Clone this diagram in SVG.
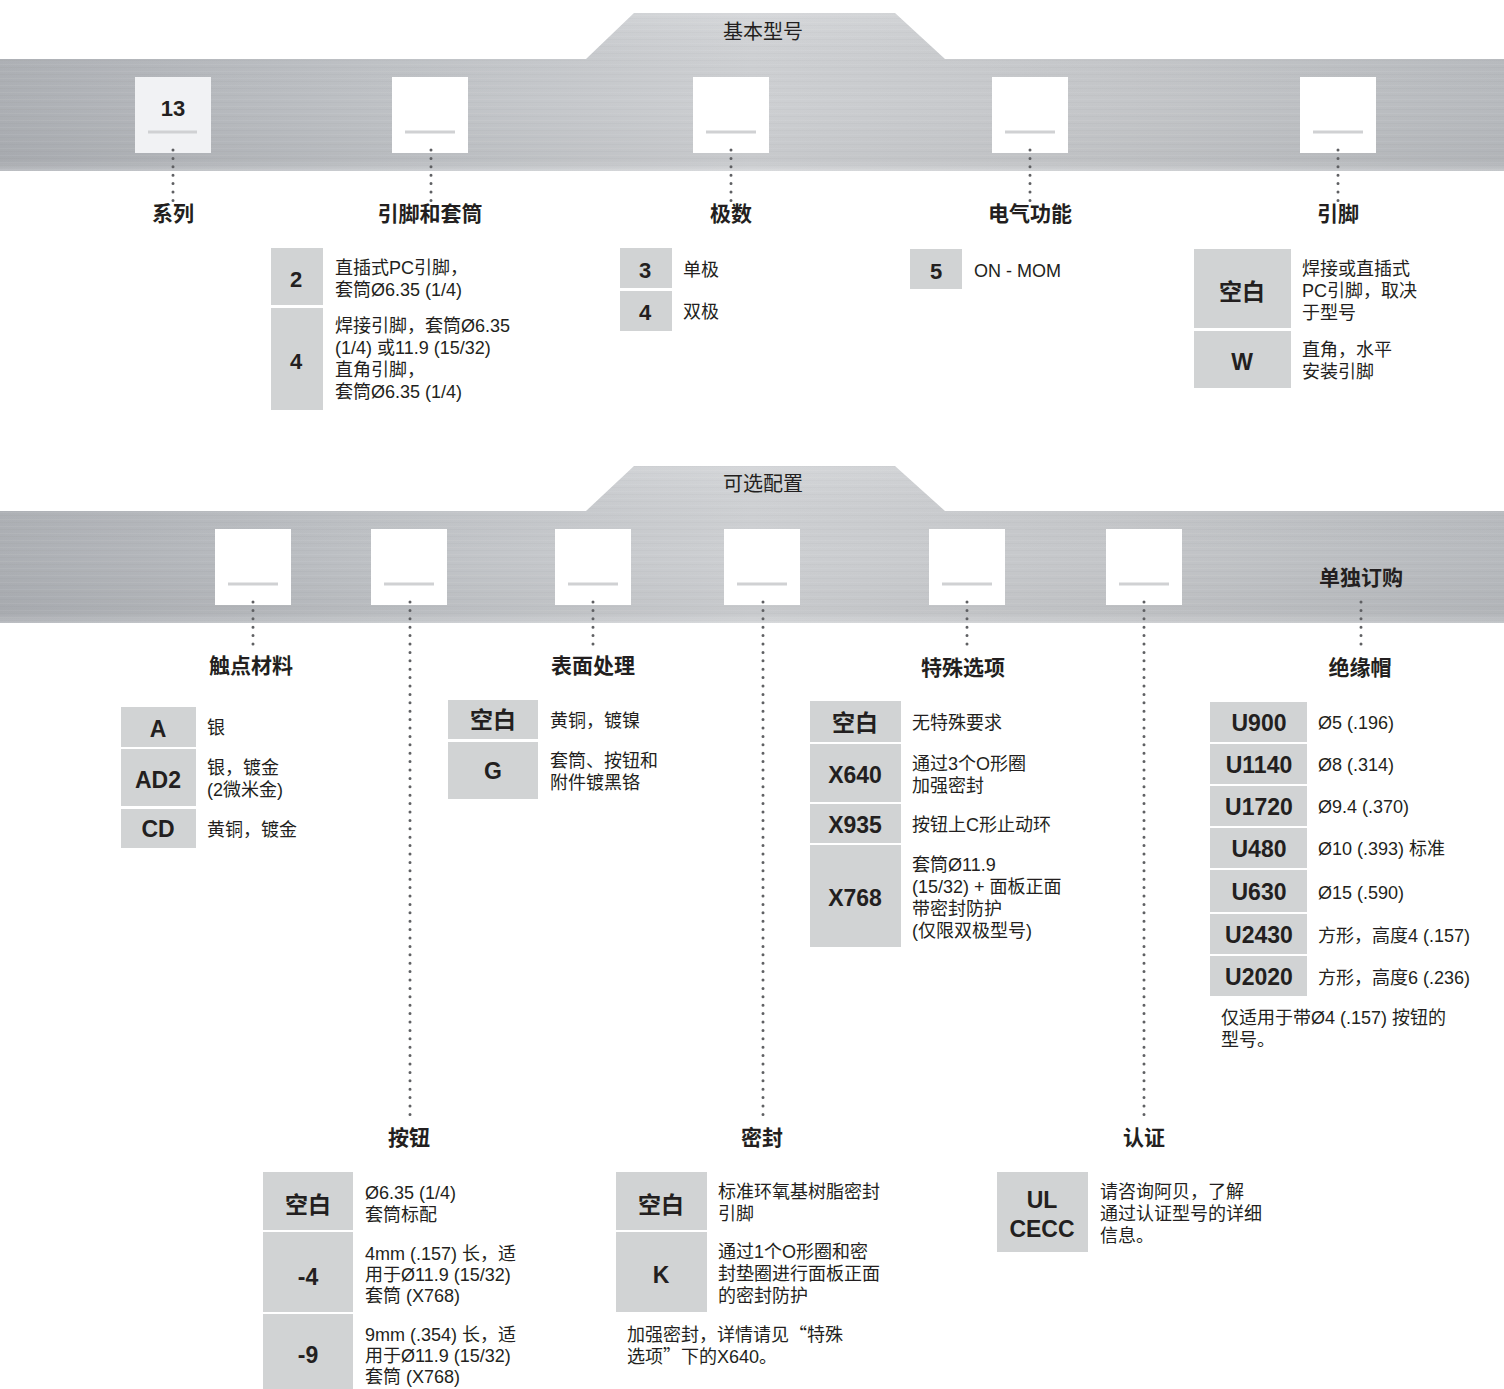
<svg xmlns="http://www.w3.org/2000/svg" width="1504" height="1389" viewBox="0 0 1504 1389">
<defs>
<linearGradient id="metalH" x1="0" y1="0" x2="1" y2="0">
<stop offset="0" stop-color="#b0b3b8"/>
<stop offset="0.25" stop-color="#c2c5c9"/>
<stop offset="0.5" stop-color="#d2d4d7"/>
<stop offset="0.75" stop-color="#c8cacd"/>
<stop offset="1" stop-color="#bbbec2"/>
</linearGradient>
<linearGradient id="metalV" x1="0" y1="0" x2="0" y2="1">
<stop offset="0" stop-color="#ffffff" stop-opacity="0.08"/>
<stop offset="0.55" stop-color="#000000" stop-opacity="0.02"/>
<stop offset="0.9" stop-color="#000000" stop-opacity="0.05"/>
<stop offset="1" stop-color="#ffffff" stop-opacity="0.15"/>
</linearGradient>
<pattern id="brush" width="1504" height="7" patternUnits="userSpaceOnUse">
<rect x="0" y="1" width="1504" height="1" fill="#ffffff" opacity="0.06"/>
<rect x="0" y="4" width="1504" height="1" fill="#000000" opacity="0.02"/>
</pattern>
<style>
.band{fill:url(#metalH)}
.shade{fill:url(#metalV)}
.brush{fill:url(#brush)}
.slot{fill:#ffffff}
.slot1{fill:#f1f2f4}
.ul{stroke:#d0d1d3;stroke-width:3}
.dot{stroke:#5f6063;stroke-width:3;stroke-linecap:round;stroke-dasharray:0 8.4;fill:none}
.cell{fill:#d1d3d4}
text{font-family:"Liberation Sans","Noto Sans CJK SC",sans-serif;fill:#231f20}
.cjk{font-family:"Noto Sans CJK SC",sans-serif}
.hd{font-size:21px;font-weight:700;text-anchor:middle}
.ttl{font-size:20px;text-anchor:middle}
.code{font-size:23px;font-weight:700;text-anchor:middle}
.num{font-size:22px;font-weight:700;text-anchor:middle}
.txt{font-size:18px}
</style>
</defs>

<g id="banner-basic">
<path class="band" d="M0,59 H586 L634,13 H895 L945,59 H1504 V171 H0 Z"/>
<path class="shade" d="M0,59 H586 L634,13 H895 L945,59 H1504 V171 H0 Z"/>
<path class="brush" d="M0,59 H586 L634,13 H895 L945,59 H1504 V171 H0 Z"/>
<text class="ttl" x="763" y="39">基本型号</text>
</g>

<g id="banner-optional">
<path class="band" d="M0,511 H586 L634,466 H895 L945,511 H1504 V623 H0 Z"/>
<path class="shade" d="M0,511 H586 L634,466 H895 L945,511 H1504 V623 H0 Z"/>
<path class="brush" d="M0,511 H586 L634,466 H895 L945,511 H1504 V623 H0 Z"/>
<text class="ttl" x="763" y="491">可选配置</text>
<text class="hd" x="1361" y="585">单独订购</text>
</g>

<g id="slots">
<g id="slot-series"><rect class="slot1" x="135" y="77" width="76" height="76"/><line class="ul" x1="148" y1="132" x2="197" y2="132"/><text class="num" x="173" y="116">13</text></g>
<g id="slot-terminal-bushing"><rect class="slot" x="392" y="77" width="76" height="76"/><line class="ul" x1="405" y1="132" x2="455" y2="132"/></g>
<g id="slot-poles"><rect class="slot" x="693" y="77" width="76" height="76"/><line class="ul" x1="706" y1="132" x2="756" y2="132"/></g>
<g id="slot-function"><rect class="slot" x="992" y="77" width="76" height="76"/><line class="ul" x1="1005" y1="132" x2="1055" y2="132"/></g>
<g id="slot-terminal"><rect class="slot" x="1300" y="77" width="76" height="76"/><line class="ul" x1="1313" y1="132" x2="1363" y2="132"/></g>
<g id="slot-contact"><rect class="slot" x="215" y="529" width="76" height="76"/><line class="ul" x1="228" y1="584" x2="278" y2="584"/></g>
<g id="slot-button"><rect class="slot" x="371" y="529" width="76" height="76"/><line class="ul" x1="384" y1="584" x2="434" y2="584"/></g>
<g id="slot-finish"><rect class="slot" x="555" y="529" width="76" height="76"/><line class="ul" x1="568" y1="584" x2="618" y2="584"/></g>
<g id="slot-seal"><rect class="slot" x="724" y="529" width="76" height="76"/><line class="ul" x1="737" y1="584" x2="787" y2="584"/></g>
<g id="slot-special"><rect class="slot" x="929" y="529" width="76" height="76"/><line class="ul" x1="942" y1="584" x2="992" y2="584"/></g>
<g id="slot-approval"><rect class="slot" x="1106" y="529" width="76" height="76"/><line class="ul" x1="1119" y1="584" x2="1169" y2="584"/></g>
</g>

<g id="connectors">
<line class="dot" x1="173" y1="150" x2="173" y2="201"/>
<line class="dot" x1="431" y1="150" x2="431" y2="201"/>
<line class="dot" x1="731" y1="150" x2="731" y2="201"/>
<line class="dot" x1="1030" y1="150" x2="1030" y2="201"/>
<line class="dot" x1="1338" y1="150" x2="1338" y2="201"/>
<line class="dot" x1="253" y1="602" x2="253" y2="652"/>
<line class="dot" x1="410" y1="602" x2="410" y2="1118"/>
<line class="dot" x1="593" y1="602" x2="593" y2="652"/>
<line class="dot" x1="763" y1="602" x2="763" y2="1118"/>
<line class="dot" x1="967" y1="602" x2="967" y2="652"/>
<line class="dot" x1="1144" y1="602" x2="1144" y2="1118"/>
<line class="dot" x1="1361" y1="602" x2="1361" y2="652"/>
</g>

<g id="series">
<text class="hd" x="173" y="221">系列</text>
</g>

<g id="terminal-bushing">
<text class="hd" x="430" y="221">引脚和套筒</text>
<rect class="cell" x="271" y="248" width="52" height="57"/>
<rect class="cell" x="271" y="308" width="52" height="102"/>
<text class="num" x="296" y="287">2</text>
<text class="num" x="296" y="369">4</text>
<text class="txt" x="335" y="274">直插式PC引脚，</text>
<text class="txt" x="335" y="296">套筒Ø6.35 (1/4)</text>
<text class="txt" x="335" y="332">焊接引脚，套筒Ø6.35</text>
<text class="txt" x="335" y="354">(1/4) 或11.9 (15/32)</text>
<text class="txt" x="335" y="376">直角引脚，</text>
<text class="txt" x="335" y="398">套筒Ø6.35 (1/4)</text>
</g>

<g id="poles">
<text class="hd" x="731" y="221">极数</text>
<rect class="cell" x="620" y="248" width="52" height="40"/>
<rect class="cell" x="620" y="291" width="52" height="40"/>
<text class="num" x="645" y="278">3</text>
<text class="num" x="645" y="320">4</text>
<text class="txt" x="683" y="276">单极</text>
<text class="txt" x="683" y="318">双极</text>
</g>

<g id="function">
<text class="hd" x="1030" y="221">电气功能</text>
<rect class="cell" x="910" y="249" width="52" height="40"/>
<text class="num" x="936" y="279">5</text>
<text class="txt" x="974" y="277">ON - MOM</text>
</g>

<g id="terminal">
<text class="hd" x="1338" y="221">引脚</text>
<rect class="cell" x="1194" y="249" width="97" height="79"/>
<rect class="cell" x="1194" y="331" width="97" height="57"/>
<text class="code" x="1242" y="300">空白</text>
<text class="code" x="1242" y="370">W</text>
<text class="txt" x="1302" y="275">焊接或直插式</text>
<text class="txt" x="1302" y="297">PC引脚，取决</text>
<text class="txt" x="1302" y="319">于型号</text>
<text class="txt" x="1302" y="356">直角，水平</text>
<text class="txt" x="1302" y="378">安装引脚</text>
</g>

<g id="contact-material">
<text class="hd" x="251" y="673">触点材料</text>
<rect class="cell" x="121" y="707" width="75" height="40"/>
<rect class="cell" x="121" y="749" width="75" height="57"/>
<rect class="cell" x="121" y="809" width="75" height="39"/>
<text class="code" x="158" y="737">A</text>
<text class="code" x="158" y="788">AD2</text>
<text class="code" x="158" y="837">CD</text>
<text class="txt" x="207" y="734">银</text>
<text class="txt" x="207" y="774">银，镀金</text>
<text class="txt" x="207" y="796">(2微米金)</text>
<text class="txt" x="207" y="836">黄铜，镀金</text>
</g>

<g id="finish">
<text class="hd" x="593" y="673">表面处理</text>
<rect class="cell" x="448" y="700" width="90" height="39"/>
<rect class="cell" x="448" y="742" width="90" height="57"/>
<text class="code" x="493" y="728">空白</text>
<text class="code" x="493" y="779">G</text>
<text class="txt" x="550" y="727">黄铜，镀镍</text>
<text class="txt" x="550" y="767">套筒、按钮和</text>
<text class="txt" x="550" y="789">附件镀黑铬</text>
</g>

<g id="special-options">
<text class="hd" x="963" y="675">特殊选项</text>
<rect class="cell" x="810" y="701" width="91" height="41"/>
<rect class="cell" x="810" y="744" width="91" height="58"/>
<rect class="cell" x="810" y="804" width="91" height="39"/>
<rect class="cell" x="810" y="845" width="91" height="102"/>
<text class="code" x="855" y="731">空白</text>
<text class="code" x="855" y="783">X640</text>
<text class="code" x="855" y="833">X935</text>
<text class="code" x="855" y="906">X768</text>
<text class="txt" x="912" y="729">无特殊要求</text>
<text class="txt" x="912" y="770">通过3个O形圈</text>
<text class="txt" x="912" y="792">加强密封</text>
<text class="txt" x="912" y="831">按钮上C形止动环</text>
<text class="txt" x="912" y="871">套筒Ø11.9</text>
<text class="txt" x="912" y="893">(15/32) + 面板正面</text>
<text class="txt" x="912" y="915">带密封防护</text>
<text class="txt" x="912" y="937">(仅限双极型号)</text>
</g>

<g id="caps">
<text class="hd" x="1360" y="675">绝缘帽</text>
<rect class="cell" x="1210" y="702" width="97" height="40"/>
<rect class="cell" x="1210" y="744" width="97" height="40"/>
<rect class="cell" x="1210" y="786" width="97" height="40"/>
<rect class="cell" x="1210" y="828" width="97" height="40"/>
<rect class="cell" x="1210" y="870" width="97" height="42"/>
<rect class="cell" x="1210" y="914" width="97" height="40"/>
<rect class="cell" x="1210" y="956" width="97" height="40"/>
<text class="code" x="1259" y="731">U900</text>
<text class="code" x="1259" y="773">U1140</text>
<text class="code" x="1259" y="815">U1720</text>
<text class="code" x="1259" y="857">U480</text>
<text class="code" x="1259" y="900">U630</text>
<text class="code" x="1259" y="943">U2430</text>
<text class="code" x="1259" y="985">U2020</text>
<text class="txt" x="1318" y="729">Ø5 (.196)</text>
<text class="txt" x="1318" y="771">Ø8 (.314)</text>
<text class="txt" x="1318" y="813">Ø9.4 (.370)</text>
<text class="txt" x="1318" y="855">Ø10 (.393) 标准</text>
<text class="txt" x="1318" y="899">Ø15 (.590)</text>
<text class="txt" x="1318" y="942">方形，高度4 (.157)</text>
<text class="txt" x="1318" y="984">方形，高度6 (.236)</text>
<text class="txt" x="1221" y="1024">仅适用于带Ø4 (.157) 按钮的</text>
<text class="txt" x="1221" y="1046">型号。</text>
</g>

<g id="button">
<text class="hd" x="409" y="1145">按钮</text>
<rect class="cell" x="263" y="1172" width="90" height="58"/>
<rect class="cell" x="263" y="1232" width="90" height="80"/>
<rect class="cell" x="263" y="1314" width="90" height="75"/>
<text class="code" x="308" y="1213">空白</text>
<text class="code" x="308" y="1285">-4</text>
<text class="code" x="308" y="1363">-9</text>
<text class="txt" x="365" y="1199">Ø6.35 (1/4)</text>
<text class="txt" x="365" y="1221">套筒标配</text>
<text class="txt" x="365" y="1260">4mm (.157) 长，适</text>
<text class="txt" x="365" y="1281">用于Ø11.9 (15/32)</text>
<text class="txt" x="365" y="1302">套筒 (X768)</text>
<text class="txt" x="365" y="1341">9mm (.354) 长，适</text>
<text class="txt" x="365" y="1362">用于Ø11.9 (15/32)</text>
<text class="txt" x="365" y="1383">套筒 (X768)</text>
</g>

<g id="seal">
<text class="hd" x="762" y="1145">密封</text>
<rect class="cell" x="616" y="1172" width="91" height="58"/>
<rect class="cell" x="616" y="1232" width="91" height="80"/>
<text class="code" x="661" y="1213">空白</text>
<text class="code" x="661" y="1283">K</text>
<text class="txt" x="718" y="1198">标准环氧基树脂密封</text>
<text class="txt" x="718" y="1220">引脚</text>
<text class="txt" x="718" y="1258">通过1个O形圈和密</text>
<text class="txt" x="718" y="1280">封垫圈进行面板正面</text>
<text class="txt" x="718" y="1302">的密封防护</text>
<text class="txt" x="627" y="1341">加强密封，详情请见<tspan class="cjk">“</tspan>特殊</text>
<text class="txt" x="627" y="1363">选项<tspan class="cjk">”</tspan>下的X640。</text>
</g>

<g id="approval">
<text class="hd" x="1144" y="1145">认证</text>
<rect class="cell" x="997" y="1172" width="91" height="80"/>
<text class="code" x="1042" y="1208">UL</text>
<text class="code" x="1042" y="1237">CECC</text>
<text class="txt" x="1100" y="1198">请咨询阿贝，了解</text>
<text class="txt" x="1100" y="1220">通过认证型号的详细</text>
<text class="txt" x="1100" y="1242">信息。</text>
</g>
</svg>
